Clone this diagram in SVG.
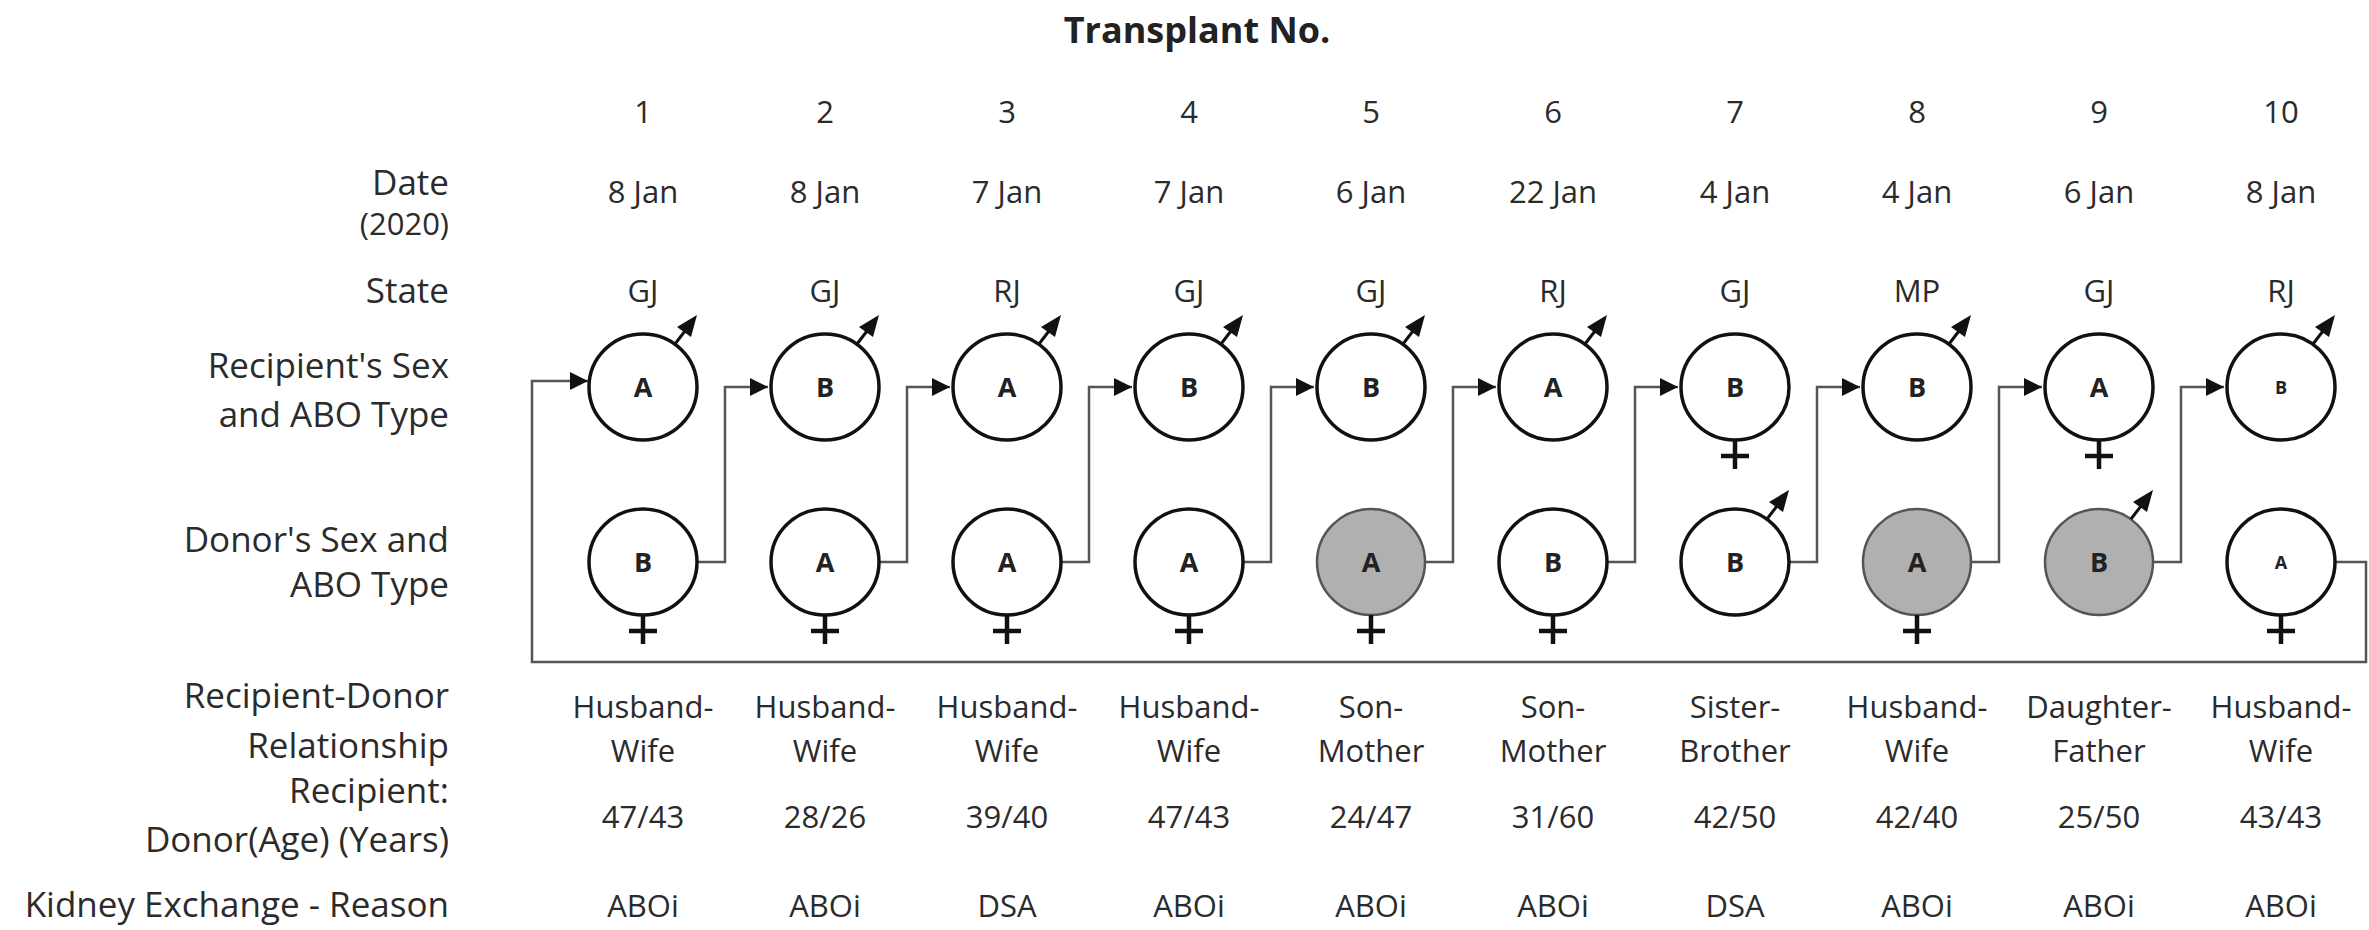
<svg xmlns="http://www.w3.org/2000/svg" xmlns:xlink="http://www.w3.org/1999/xlink" width="2369" height="930" viewBox="0 0 2369 930">
<style>
text{font-family:"Open Sans",Lato,"Liberation Sans",sans-serif;fill:#2b2b2b;}
.title{font-size:36px;font-weight:bold;text-anchor:middle;fill:#222;}
.lbl{font-size:35px;text-anchor:end;}
.dat{font-size:31px;text-anchor:middle;}
.abo{font-size:27px;font-weight:bold;text-anchor:middle;fill:#222;}
.abos{font-size:18px;font-weight:bold;text-anchor:middle;fill:#222;}
.node{fill:#fff;stroke:#111;stroke-width:3.5;}
.grey{fill:#b0b0b0;stroke:#555;stroke-width:2.5;}
.sym{stroke:#111;stroke-width:3;fill:none;}
.cross{stroke:#111;stroke-width:4.5;fill:none;}
.conn{stroke:#555;stroke-width:2.5;fill:none;}
</style>
<defs>
<marker id="ah" viewBox="0 0 10 10" refX="10" refY="5" markerWidth="25" markerHeight="18" markerUnits="userSpaceOnUse" orient="auto">
<path d="M0,0 L10,5 L0,10 z" fill="#111"/>
</marker>
<g id="male">
<line class="sym" x1="32" y1="-43" x2="42" y2="-56"/>
<polygon points="54,-72 48,-50 34,-60" fill="#111"/>
</g>
<g id="female">
<line class="cross" x1="0" y1="53" x2="0" y2="82"/>
<line class="cross" x1="-14" y1="69" x2="14" y2="69"/>
</g>
</defs>

<text class="title" x="1197" y="43">Transplant No.</text>

<g id="row-labels">
<text class="lbl" x="449" y="195">Date</text>
<text class="lbl" x="449" y="235" style="font-size:31px">(2020)</text>
<text class="lbl" x="449" y="303">State</text>
<text class="lbl" x="449" y="378">Recipient's Sex</text>
<text class="lbl" x="449" y="427">and ABO Type</text>
<text class="lbl" x="449" y="552">Donor's Sex and</text>
<text class="lbl" x="449" y="597">ABO Type</text>
<text class="lbl" x="449" y="708">Recipient-Donor</text>
<text class="lbl" x="449" y="758">Relationship</text>
<text class="lbl" x="449" y="803">Recipient:</text>
<text class="lbl" x="449" y="852">Donor(Age) (Years)</text>
<text class="lbl" x="449" y="917">Kidney Exchange - Reason</text>
</g>

<g id="connectors">
<polyline class="conn" points="696,562 725,562 725,387 768,387" marker-end="url(#ah)"/>
<polyline class="conn" points="878,562 907,562 907,387 950,387" marker-end="url(#ah)"/>
<polyline class="conn" points="1060,562 1089,562 1089,387 1132,387" marker-end="url(#ah)"/>
<polyline class="conn" points="1242,562 1271,562 1271,387 1314,387" marker-end="url(#ah)"/>
<polyline class="conn" points="1424,562 1453,562 1453,387 1496,387" marker-end="url(#ah)"/>
<polyline class="conn" points="1606,562 1635,562 1635,387 1678,387" marker-end="url(#ah)"/>
<polyline class="conn" points="1788,562 1817,562 1817,387 1860,387" marker-end="url(#ah)"/>
<polyline class="conn" points="1970,562 1999,562 1999,387 2042,387" marker-end="url(#ah)"/>
<polyline class="conn" points="2152,562 2181,562 2181,387 2224,387" marker-end="url(#ah)"/>
<polyline class="conn" points="2334,562 2366,562 2366,662 532,662 532,381 588,381" marker-end="url(#ah)"/>
</g>

<g id="col1">
<text class="dat" x="643" y="123">1</text>
<text class="dat" x="643" y="203">8 Jan</text>
<text class="dat" x="643" y="302">GJ</text>
<g id="r1"><ellipse class="node" cx="643" cy="387" rx="54" ry="53"/><use xlink:href="#male" x="643" y="387"/><text class="abo" x="643" y="397">A</text></g>
<g id="d1"><ellipse class="node" cx="643" cy="562" rx="54" ry="53"/><use xlink:href="#female" x="643" y="562"/><text class="abo" x="643" y="572">B</text></g>
<text class="dat" x="643" y="718">Husband-</text>
<text class="dat" x="643" y="762">Wife</text>
<text class="dat" x="643" y="828">47/43</text>
<text class="dat" x="643" y="917">ABOi</text>
</g>

<g id="col2">
<text class="dat" x="825" y="123">2</text>
<text class="dat" x="825" y="203">8 Jan</text>
<text class="dat" x="825" y="302">GJ</text>
<g id="r2"><ellipse class="node" cx="825" cy="387" rx="54" ry="53"/><use xlink:href="#male" x="825" y="387"/><text class="abo" x="825" y="397">B</text></g>
<g id="d2"><ellipse class="node" cx="825" cy="562" rx="54" ry="53"/><use xlink:href="#female" x="825" y="562"/><text class="abo" x="825" y="572">A</text></g>
<text class="dat" x="825" y="718">Husband-</text>
<text class="dat" x="825" y="762">Wife</text>
<text class="dat" x="825" y="828">28/26</text>
<text class="dat" x="825" y="917">ABOi</text>
</g>

<g id="col3">
<text class="dat" x="1007" y="123">3</text>
<text class="dat" x="1007" y="203">7 Jan</text>
<text class="dat" x="1007" y="302">RJ</text>
<g id="r3"><ellipse class="node" cx="1007" cy="387" rx="54" ry="53"/><use xlink:href="#male" x="1007" y="387"/><text class="abo" x="1007" y="397">A</text></g>
<g id="d3"><ellipse class="node" cx="1007" cy="562" rx="54" ry="53"/><use xlink:href="#female" x="1007" y="562"/><text class="abo" x="1007" y="572">A</text></g>
<text class="dat" x="1007" y="718">Husband-</text>
<text class="dat" x="1007" y="762">Wife</text>
<text class="dat" x="1007" y="828">39/40</text>
<text class="dat" x="1007" y="917">DSA</text>
</g>

<g id="col4">
<text class="dat" x="1189" y="123">4</text>
<text class="dat" x="1189" y="203">7 Jan</text>
<text class="dat" x="1189" y="302">GJ</text>
<g id="r4"><ellipse class="node" cx="1189" cy="387" rx="54" ry="53"/><use xlink:href="#male" x="1189" y="387"/><text class="abo" x="1189" y="397">B</text></g>
<g id="d4"><ellipse class="node" cx="1189" cy="562" rx="54" ry="53"/><use xlink:href="#female" x="1189" y="562"/><text class="abo" x="1189" y="572">A</text></g>
<text class="dat" x="1189" y="718">Husband-</text>
<text class="dat" x="1189" y="762">Wife</text>
<text class="dat" x="1189" y="828">47/43</text>
<text class="dat" x="1189" y="917">ABOi</text>
</g>

<g id="col5">
<text class="dat" x="1371" y="123">5</text>
<text class="dat" x="1371" y="203">6 Jan</text>
<text class="dat" x="1371" y="302">GJ</text>
<g id="r5"><ellipse class="node" cx="1371" cy="387" rx="54" ry="53"/><use xlink:href="#male" x="1371" y="387"/><text class="abo" x="1371" y="397">B</text></g>
<g id="d5"><ellipse class="grey" cx="1371" cy="562" rx="54" ry="53"/><use xlink:href="#female" x="1371" y="562"/><text class="abo" x="1371" y="572">A</text></g>
<text class="dat" x="1371" y="718">Son-</text>
<text class="dat" x="1371" y="762">Mother</text>
<text class="dat" x="1371" y="828">24/47</text>
<text class="dat" x="1371" y="917">ABOi</text>
</g>

<g id="col6">
<text class="dat" x="1553" y="123">6</text>
<text class="dat" x="1553" y="203">22 Jan</text>
<text class="dat" x="1553" y="302">RJ</text>
<g id="r6"><ellipse class="node" cx="1553" cy="387" rx="54" ry="53"/><use xlink:href="#male" x="1553" y="387"/><text class="abo" x="1553" y="397">A</text></g>
<g id="d6"><ellipse class="node" cx="1553" cy="562" rx="54" ry="53"/><use xlink:href="#female" x="1553" y="562"/><text class="abo" x="1553" y="572">B</text></g>
<text class="dat" x="1553" y="718">Son-</text>
<text class="dat" x="1553" y="762">Mother</text>
<text class="dat" x="1553" y="828">31/60</text>
<text class="dat" x="1553" y="917">ABOi</text>
</g>

<g id="col7">
<text class="dat" x="1735" y="123">7</text>
<text class="dat" x="1735" y="203">4 Jan</text>
<text class="dat" x="1735" y="302">GJ</text>
<g id="r7"><ellipse class="node" cx="1735" cy="387" rx="54" ry="53"/><use xlink:href="#female" x="1735" y="387"/><text class="abo" x="1735" y="397">B</text></g>
<g id="d7"><ellipse class="node" cx="1735" cy="562" rx="54" ry="53"/><use xlink:href="#male" x="1735" y="562"/><text class="abo" x="1735" y="572">B</text></g>
<text class="dat" x="1735" y="718">Sister-</text>
<text class="dat" x="1735" y="762">Brother</text>
<text class="dat" x="1735" y="828">42/50</text>
<text class="dat" x="1735" y="917">DSA</text>
</g>

<g id="col8">
<text class="dat" x="1917" y="123">8</text>
<text class="dat" x="1917" y="203">4 Jan</text>
<text class="dat" x="1917" y="302">MP</text>
<g id="r8"><ellipse class="node" cx="1917" cy="387" rx="54" ry="53"/><use xlink:href="#male" x="1917" y="387"/><text class="abo" x="1917" y="397">B</text></g>
<g id="d8"><ellipse class="grey" cx="1917" cy="562" rx="54" ry="53"/><use xlink:href="#female" x="1917" y="562"/><text class="abo" x="1917" y="572">A</text></g>
<text class="dat" x="1917" y="718">Husband-</text>
<text class="dat" x="1917" y="762">Wife</text>
<text class="dat" x="1917" y="828">42/40</text>
<text class="dat" x="1917" y="917">ABOi</text>
</g>

<g id="col9">
<text class="dat" x="2099" y="123">9</text>
<text class="dat" x="2099" y="203">6 Jan</text>
<text class="dat" x="2099" y="302">GJ</text>
<g id="r9"><ellipse class="node" cx="2099" cy="387" rx="54" ry="53"/><use xlink:href="#female" x="2099" y="387"/><text class="abo" x="2099" y="397">A</text></g>
<g id="d9"><ellipse class="grey" cx="2099" cy="562" rx="54" ry="53"/><use xlink:href="#male" x="2099" y="562"/><text class="abo" x="2099" y="572">B</text></g>
<text class="dat" x="2099" y="718">Daughter-</text>
<text class="dat" x="2099" y="762">Father</text>
<text class="dat" x="2099" y="828">25/50</text>
<text class="dat" x="2099" y="917">ABOi</text>
</g>

<g id="col10">
<text class="dat" x="2281" y="123">10</text>
<text class="dat" x="2281" y="203">8 Jan</text>
<text class="dat" x="2281" y="302">RJ</text>
<g id="r10"><ellipse class="node" cx="2281" cy="387" rx="54" ry="53"/><use xlink:href="#male" x="2281" y="387"/><text class="abos" x="2281" y="394">B</text></g>
<g id="d10"><ellipse class="node" cx="2281" cy="562" rx="54" ry="53"/><use xlink:href="#female" x="2281" y="562"/><text class="abos" x="2281" y="569">A</text></g>
<text class="dat" x="2281" y="718">Husband-</text>
<text class="dat" x="2281" y="762">Wife</text>
<text class="dat" x="2281" y="828">43/43</text>
<text class="dat" x="2281" y="917">ABOi</text>
</g>
</svg>
